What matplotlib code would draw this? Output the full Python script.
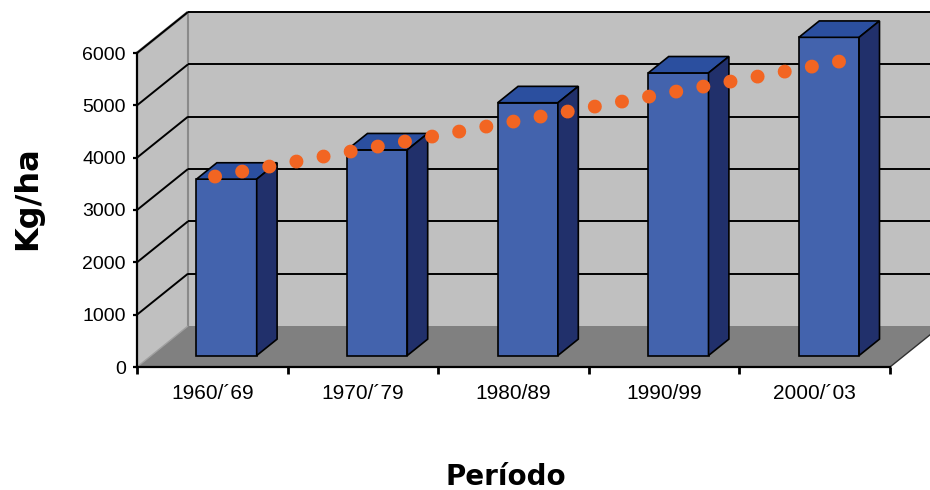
import numpy as np
import matplotlib
matplotlib.use('Agg')
import matplotlib.pyplot as plt
from matplotlib.patches import Polygon

plt.rcParams['font.family'] = ['Liberation Sans', 'DejaVu Sans']

periods = ['1960/´69', '1970/´79', '1980/89', '1990/99', '2000/´03']
yields = [3370, 3930, 4830, 5400, 6080]  # kg/ha
# dotted trend drawn over the bars: start / end (category position, kg/ha)
trend_pos = [-0.077, 4.073]
trend_val = [3420, 5620]
yticks = [0, 1000, 2000, 3000, 4000, 5000, 6000]

W, H = 930, 490
fig = plt.figure(figsize=(W / 100, H / 100), dpi=100)

# front plane of the 3d box in pixels
x0, x1, yb, yt = 137, 890, 367, 53
ax = fig.add_axes([x0 / W, 1 - yb / H, (x1 - x0) / W, (yb - yt) / H])
ax.set_xlim(-0.5, 4.5)
ax.set_ylim(0, 6000)
ax.patch.set_visible(False)

# depth of the box (51 px right, 41 px up) expressed in data units
DX = 51 / (x1 - x0) * 5
DY = 41 / (yb - yt) * 6000


def P(c, v, d):
    return (c + d * DX, v + d * DY)


def face(pts, color, z, ec='none', lw=1.2):
    ax.add_patch(Polygon([P(*p) for p in pts], closed=True, fc=color, ec=ec,
                         lw=lw, zorder=z, clip_on=False, joinstyle='miter'))


def line(pts, color, lw, z):
    xy = np.array([P(*p) for p in pts])
    ax.plot(xy[:, 0], xy[:, 1], color=color, lw=lw, zorder=z, clip_on=False,
            solid_capstyle='butt')


# walls and floor
face([(-0.5, 0, 1), (4.5, 0, 1), (4.5, 6000, 1), (-0.5, 6000, 1)], '#c0c0c0', 0)
face([(-0.5, 0, 0), (-0.5, 0, 1), (-0.5, 6000, 1), (-0.5, 6000, 0)], '#c0c0c0', 0)
face([(-0.5, 0, 0), (4.5, 0, 0), (4.5, 0, 1), (-0.5, 0, 1)], '#808080', 0.5)
line([(-0.5, 6000, 0), (-0.5, 6000, 1)], '#8a8a8a', 2, 1)
line([(-0.5, 0, 1), (-0.5, 6000, 1)], '#8a8a8a', 1.5, 1)
line([(-0.5, 0, 0), (-0.5, 0, 1)], '#a0a0a0', 1, 1)
line([(4.5, 0, 0), (4.5, 0, 1)], '#303030', 1, 1)

# gridlines on back and side wall
for v in yticks[1:]:
    line([(-0.5, v, 1), (4.5, v, 1)], 'black', 1.4, 1.2)
    line([(-0.5, v, 0), (-0.5, v, 1)], 'black', 1.4, 1.2)

# 3d columns
hw, d0, d1 = 0.2, 0.28, 0.68
for i, v in enumerate(yields):
    face([(i - hw, 0, d0), (i + hw, 0, d0), (i + hw, v, d0), (i - hw, v, d0)],
         '#4363ad', 3, ec='black')
    face([(i - hw, v, d0), (i + hw, v, d0), (i + hw, v, d1), (i - hw, v, d1)],
         '#2b4f9f', 3, ec='black')
    face([(i + hw, 0, d0), (i + hw, 0, d1), (i + hw, v, d1), (i + hw, v, d0)],
         '#21306b', 3, ec='black')

# dotted trend
tr = np.array([P(c, v, d0) for c, v in zip(trend_pos, trend_val)])
ax.plot(tr[:, 0], tr[:, 1], color='#f26522', lw=10,
        linestyle=(0, (0.01, 1.976)), dash_capstyle='round', zorder=4,
        clip_on=False)

# axes
for s in ['top', 'right']:
    ax.spines[s].set_visible(False)
for s in ['left', 'bottom']:
    ax.spines[s].set_linewidth(1.6)
    ax.spines[s].set_zorder(2)
ax.set_yticks(yticks)
ax.tick_params(axis='y', direction='out', length=3, width=1.6, labelsize=14, pad=5)
ax.set_xticks(np.arange(-0.5, 5, 1))
ax.set_xticklabels([])
ax.set_xticks(range(len(periods)), minor=True)
ax.set_xticklabels(periods, minor=True)
ax.tick_params(axis='x', which='major', direction='out', length=5, width=2)
ax.tick_params(axis='x', which='minor', length=0, labelsize=15, pad=12)

fig.text(28 / W, 1 - 198 / H, 'Kg/ha', rotation=90, ha='center', va='center',
         fontsize=23, fontweight='bold', family='DejaVu Sans')
fig.text(506 / W, 1 - 477 / H, 'Período', ha='center', va='center',
         fontsize=20, fontweight='bold', family='DejaVu Sans')

fig.savefig('out.png', dpi=100)
